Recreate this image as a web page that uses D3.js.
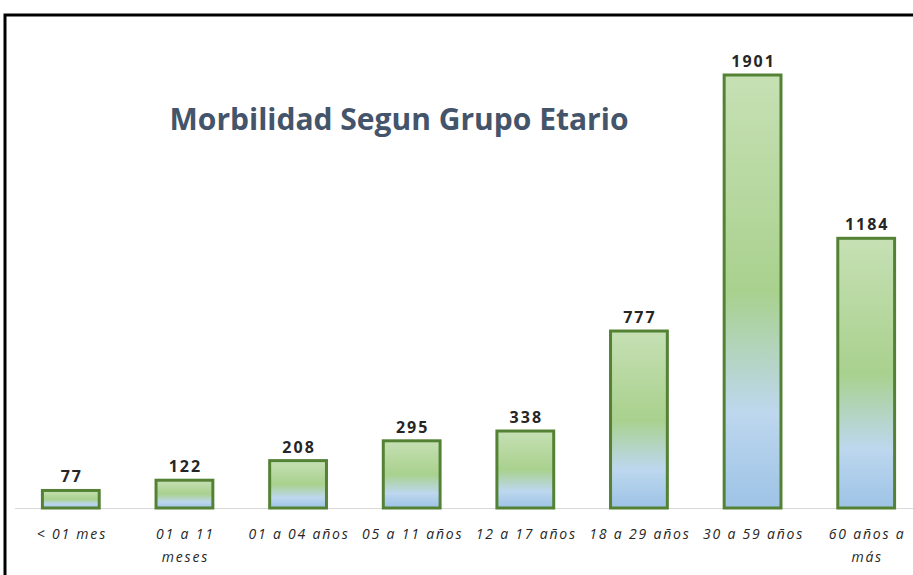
<!DOCTYPE html>
<head>
  <meta charset="utf-8">
  <title>Morbilidad Segun Grupo Etario</title>
  <script src="https://cdn.jsdelivr.net/npm/d3@7"></script>
  <style>
    body { margin: 0; background: #fff; }
  </style>
</head>
<body>
<div id="container"></div>
<script>
  // data
  const groups = [
    ['< 01 mes'],
    ['01 a 11', 'meses'],
    ['01 a 04 años'],
    ['05 a 11 años'],
    ['12 a 17 años'],
    ['18 a 29 años'],
    ['30 a 59 años'],
    ['60 años a', 'más']
  ];
  const cases = [77, 122, 208, 295, 338, 777, 1901, 1184];

  const width = 913, height = 575;
  const baseY = 508;

  const svg = d3.select('#container').append('svg')
    .attr('width', width)
    .attr('height', height);

  // gradient green -> blue like the spreadsheet fill
  const grad = svg.append('defs').append('linearGradient')
    .attr('id', 'barFill')
    .attr('x1', 0).attr('y1', 0).attr('x2', 0).attr('y2', 1);
  [[0, '#c6e0b4'], [0.5, '#a9d18e'], [0.78, '#bdd7ee'], [1, '#9dc3e6']].forEach(s => {
    grad.append('stop').attr('offset', s[0]).attr('stop-color', s[1]);
  });

  // frame (cut on right and bottom)
  svg.append('path')
    .attr('d', `M5,${height} L5,15 L${width},15`)
    .attr('fill', 'none')
    .attr('stroke', '#000')
    .attr('stroke-width', 3);

  const x = d3.scaleBand()
    .domain(d3.range(cases.length))
    .range([14, 923])
    .paddingInner(0.5)
    .paddingOuter(0.25);

  const y = d3.scaleLinear()
    .domain([0, 1901])
    .range([baseY, 75]);

  // baseline
  svg.append('line')
    .attr('x1', 15).attr('x2', width)
    .attr('y1', baseY + 0.5).attr('y2', baseY + 0.5)
    .attr('stroke', '#d9d9d9')
    .attr('stroke-width', 1);

  svg.selectAll('.bar')
    .data(cases)
    .enter()
    .append('rect')
      .attr('class', 'bar')
      .attr('x', (d, i) => x(i))
      .attr('y', d => y(d))
      .attr('width', x.bandwidth())
      .attr('height', d => baseY - y(d))
      .attr('fill', 'url(#barFill)')
      .attr('stroke', '#548235')
      .attr('stroke-width', 3);

  // value labels
  svg.selectAll('.val')
    .data(cases)
    .enter()
    .append('text')
      .attr('x', (d, i) => x(i) + x.bandwidth() / 2 + 1)
      .attr('y', d => y(d) - 8)
      .attr('text-anchor', 'middle')
      .style('font-family', 'Open Sans, sans-serif')
      .style('font-weight', 'bold')
      .style('font-size', '16px')
      .style('letter-spacing', '2px')
      .style('fill', '#262626')
      .text(d => d);

  // category labels
  const cat = svg.selectAll('.cat')
    .data(groups)
    .enter()
    .append('text')
      .attr('x', (d, i) => x(i) + x.bandwidth() / 2 + 1)
      .attr('y', 539)
      .attr('text-anchor', 'middle')
      .style('font-family', 'Open Sans, sans-serif')
      .style('font-style', 'italic')
      .style('font-size', '14px')
      .style('letter-spacing', '1.8px')
      .style('fill', '#262626');
  cat.selectAll('tspan')
    .data(d => d)
    .enter()
    .append('tspan')
      .attr('x', function() { return this.parentNode.getAttribute('x'); })
      .attr('dy', (d, i) => i ? 23 : 0)
      .text(d => d);

  // title
  svg.append('text')
    .attr('x', 399)
    .attr('y', 130)
    .attr('text-anchor', 'middle')
    .style('font-family', 'Open Sans, sans-serif')
    .style('font-weight', 'bold')
    .style('font-size', '30px')
    .style('fill', '#44546a')
    .text('Morbilidad Segun Grupo Etario');
</script>
</body>
